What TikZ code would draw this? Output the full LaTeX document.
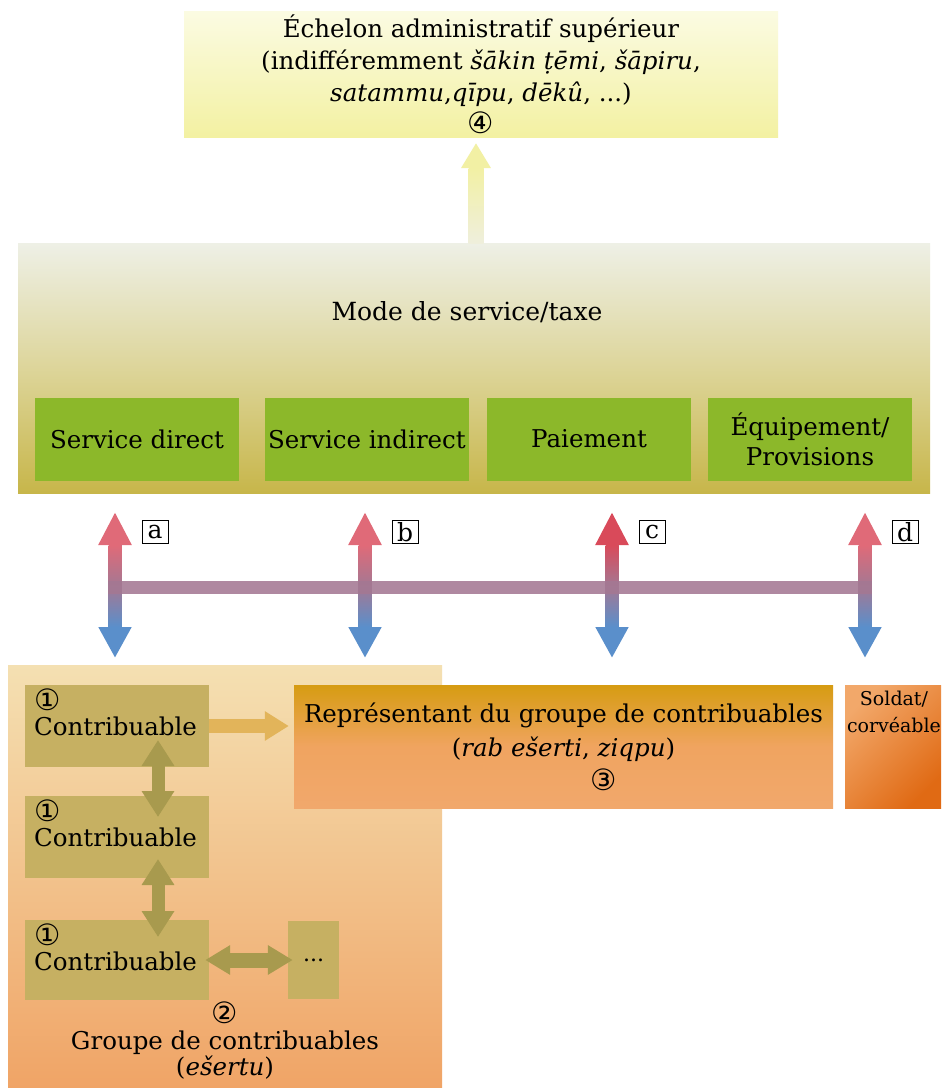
\documentclass[tikz,border=0pt]{standalone}
\usepackage{fontspec}
\setmainfont{DejaVu Serif}
\newfontfamily\circfont[Scale=1.2]{DejaVu Sans}
\usetikzlibrary{arrows.meta,positioning}

\definecolor{topyellowA}{HTML}{FBFBE2}
\definecolor{topyellowB}{HTML}{F3F1A2}
\definecolor{modetop}{HTML}{EEF0E6}
\definecolor{modemid}{HTML}{DDD59A}
\definecolor{modebot}{HTML}{C7B64A}
\definecolor{srvgreen}{HTML}{8CB82A}
\definecolor{upyel}{HTML}{F2F0A4}
\definecolor{uplight}{HTML}{EFEFDC}
\definecolor{redtip}{HTML}{E06A78}
\definecolor{redtipc}{HTML}{D94A5A}
\definecolor{arrblue}{HTML}{5A8FCB}
\definecolor{barcol}{HTML}{A47893}
\definecolor{grptop}{HTML}{F4E0B2}
\definecolor{grpbot}{HTML}{F0A466}
\definecolor{contcol}{HTML}{C6B062}
\definecolor{olivecol}{HTML}{A89A4E}
\definecolor{goldarrow}{HTML}{E2B45A}
\definecolor{reptop}{HTML}{D69C12}
\definecolor{repmid}{HTML}{F0A460}
\definecolor{repbot}{HTML}{F1A86C}
\definecolor{soldtop}{HTML}{F2A86A}
\definecolor{soldbot}{HTML}{E06A14}

\tikzset{
  greenbox/.style={fill=srvgreen, minimum width=204pt, minimum height=83pt, inner sep=0pt, align=center, font=\fontsize{24.5}{30}\selectfont},
  contbox/.style={fill=contcol, minimum width=184pt, minimum height=82pt, inner sep=0pt},
  conttext/.style={anchor=north west, align=left, inner sep=0pt, font=\fontsize{24.5}{25}\selectfont},
  letterbox/.style={draw=black, line width=0.8pt, minimum width=26pt, minimum height=23pt, inner sep=0pt, font=\fontsize{25}{25}\selectfont},
  olivearrow/.style={line width=13pt, draw=olivecol, {Triangle[width=31pt,length=26pt]}-{Triangle[width=31pt,length=26pt]}},
}

\begin{document}
\begin{tikzpicture}[x=1pt, y=-1pt]
	\useasboundingbox[fill=white] (0,0) rectangle (944,1088);

	% upper level
	\node[top color=topyellowA, bottom color=topyellowB, minimum width=594pt, minimum height=123pt, align=center, font=\fontsize{24.5}{32}\selectfont] (sup) at (481,74.5) {Échelon administratif supérieur\\(indifféremment \textit{šākin ṭēmi}, \textit{šāpiru},\\\textit{satammu},\textit{qīpu}, \textit{dēkû}, ...)\\{\circfont ④}};

	% mode of service
	\node[top color=modetop, bottom color=modebot, middle color=modemid, minimum width=912pt, minimum height=250pt] (mode) at (474,368) {};
	\node[font=\fontsize{25}{30}\selectfont] (modelbl) at (467,312) {Mode de service/taxe};
	\node[greenbox] (direct) at (137,439) {Service direct};
	\node[greenbox] (indirect) at (367,439) {Service indirect};
	\node[greenbox] (pay) at (589,439) {Paiement};
	\node[greenbox] (equip) at (810,439) {Équipement/\\Provisions};

	% arrow to the upper level
	\coordinate (upbase) at (476,243);
	\coordinate (uptip) at (476,143);
	\draw[line width=15pt, draw=uplight, -{Triangle[width=28pt,length=25pt,color=upyel]}] (upbase) -- (uptip);
	\shade[top color=upyel, bottom color=uplight] ([xshift=-7.5pt]upbase) rectangle ([xshift=7.5pt,yshift=-25pt]uptip);

	% lower group
	\node[top color=grptop, bottom color=grpbot, minimum width=434pt, minimum height=423pt] (grpbox) at (225,876.5) {};
	\node[contbox] (c1) at (117,726) {};
	\node[contbox] (c2) at (117,837) {};
	\node[contbox, minimum height=80pt] (c3) at (117,960) {};
	\node[contbox, minimum width=51pt, minimum height=78pt] (dots) at (313.5,960) {\fontsize{22}{22}\selectfont ...};
	\node[conttext] (t1) at (34,689) {{\circfont ①}\\Contribuable};
	\node[conttext] (t2) at (34,800) {{\circfont ①}\\Contribuable};
	\node[conttext] (t3) at (34,924) {{\circfont ①}\\Contribuable};
	\node[align=center, font=\fontsize{24.5}{26}\selectfont] (grp) at (225,1041) {{\circfont ②}\\Groupe de contribuables\\(\textit{ešertu})};

	\coordinate (v1t) at (158,740);
	\coordinate (v1b) at (158,817);
	\coordinate (v2t) at (158,859);
	\coordinate (v2b) at (158,937);
	\draw[olivearrow] (v1t) -- (v1b);
	\draw[olivearrow] (v2t) -- (v2b);
	\draw[line width=15pt, draw=olivecol, {Triangle[width=28pt,length=25pt]}-{Triangle[width=28pt,length=25pt]}, shorten <=-4pt, shorten >=-5pt] (c3.east) -- (dots.west);

	% representative and soldier
	\node[top color=reptop, bottom color=repbot, middle color=repmid, minimum width=539pt, minimum height=123pt, align=center, font=\fontsize{24.5}{34}\selectfont] (rep) at (563.5,746.5) {Représentant du groupe de contribuables\\(\textit{rab ešerti}, \textit{ziqpu})\\\hspace*{80pt}{\circfont ③}};
	\node[top color=soldtop, bottom color=soldbot, shading angle=45, minimum width=96pt, minimum height=123pt] (sold) at (893,746.5) {};
	\node[anchor=north, align=center, inner sep=0pt, font=\fontsize{19}{27}\selectfont] (soldlbl) at (894,691) {Soldat/\\corvéable};
	\draw[line width=14pt, draw=goldarrow, -{Triangle[width=28pt,length=24pt]}, shorten >=5pt] (c1.east) -- (c1.east -| rep.west);

	% double arrows between the modes and the contributors
	\foreach \x/\l/\c in {115/a/redtip, 365/b/redtip, 612/c/redtipc, 865/d/redtip}{
		\coordinate (up\l) at (\x,512);
		\coordinate (dn\l) at (\x,658);
		\draw[line width=13pt, draw=barcol, {Triangle[width=31pt,length=33pt,color=\c]}-{Triangle[width=31pt,length=31pt,color=arrblue]}] (up\l) -- (dn\l);
		\shade[top color=\c, bottom color=arrblue, middle color=barcol] ([xshift=-6.5pt,yshift=-33pt]up\l) rectangle ([xshift=6.5pt,yshift=31pt]dn\l);
		\node[letterbox] (lab\l) at (\x+40,532) {\l};
	}
	\coordinate (barl) at (108,587);
	\coordinate (barr) at (872,587);
	\draw[line width=13pt, draw=barcol, opacity=0.88] (barl) -- (barr);
\end{tikzpicture}
\end{document}
